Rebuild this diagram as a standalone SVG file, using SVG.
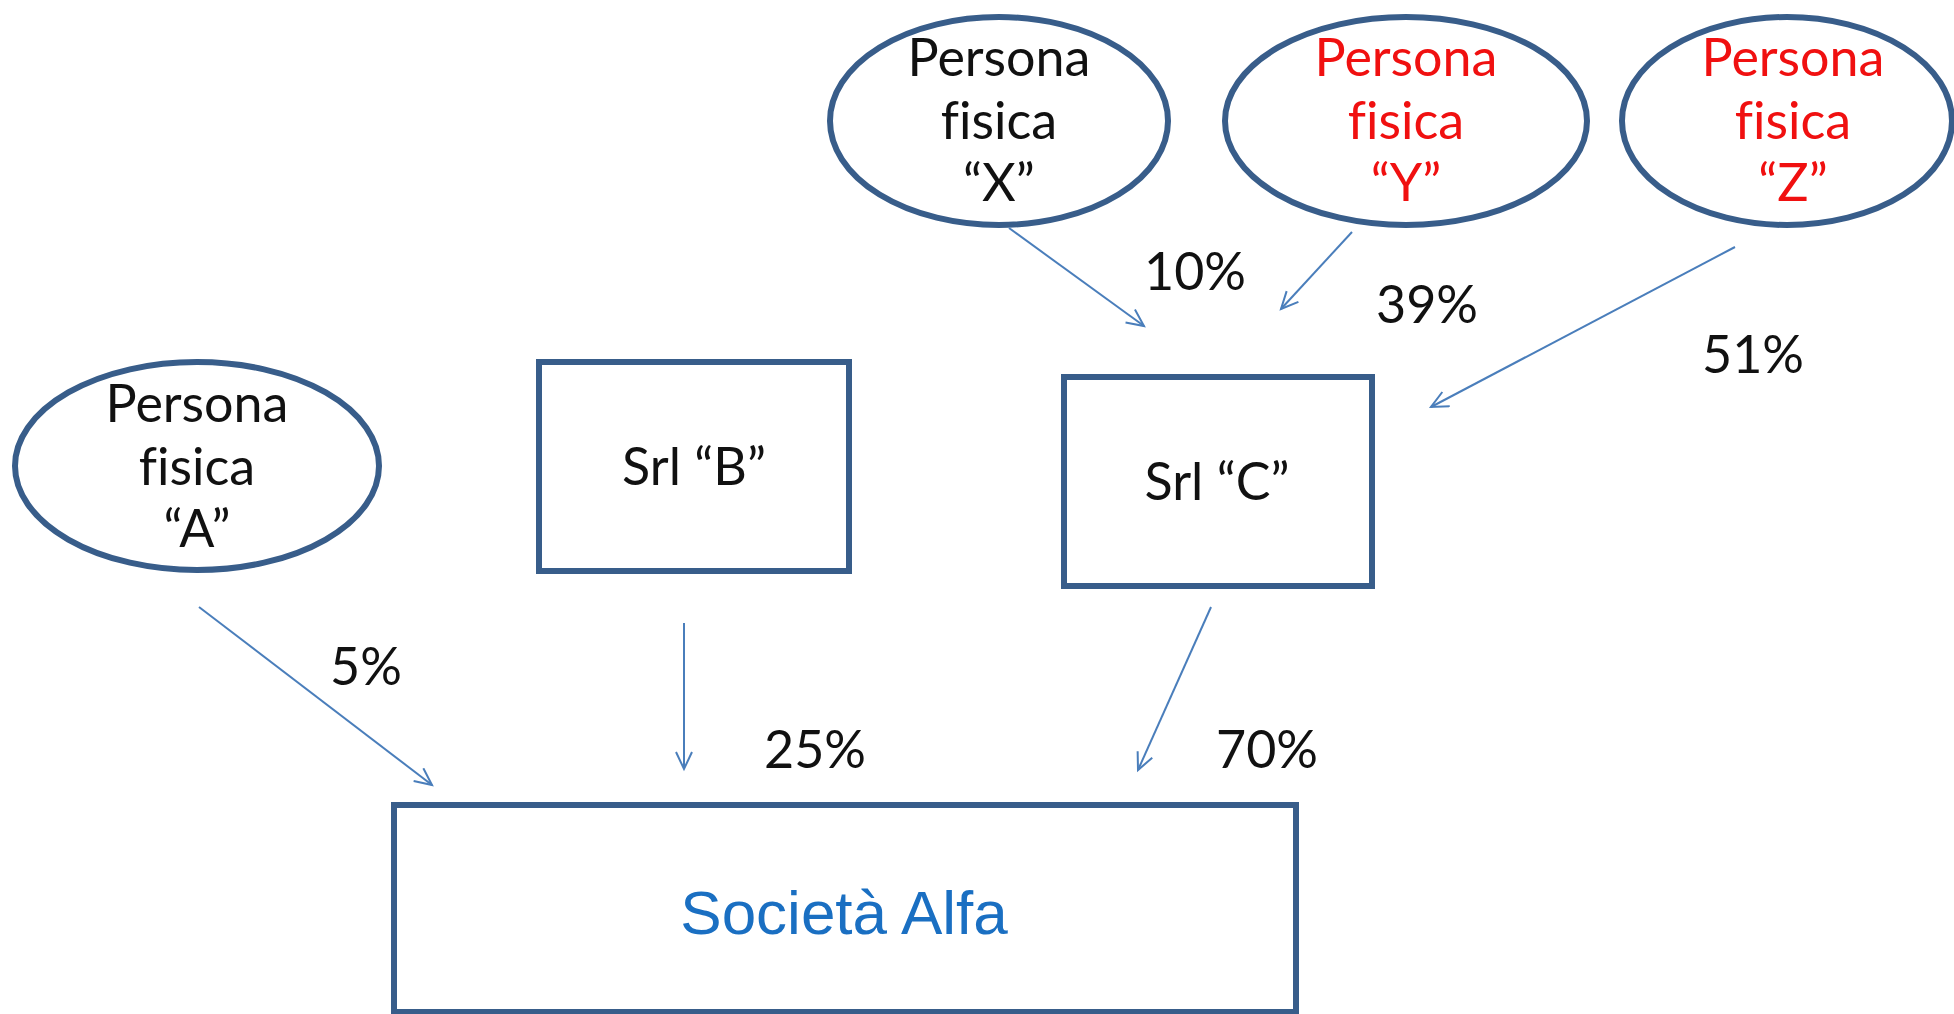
<svg xmlns="http://www.w3.org/2000/svg" width="1954" height="1014" viewBox="0 0 1954 1014">
<style>
.shape{fill:#fff;stroke:#385d8a;stroke-width:6}
.t{font-family:Lato,"Open Sans",sans-serif;font-size:52px;fill:#111;text-anchor:middle;font-variant-ligatures:none;font-feature-settings:"liga" 0}
.red{fill:#f01010}
.pct{font-family:Lato,"Open Sans",sans-serif;font-size:52px;fill:#111}
.alfa{font-family:"Liberation Sans",Arial,sans-serif;font-size:62px;fill:#1a6fc2;text-anchor:middle}
.conn{stroke:#4a7ebb;stroke-width:2;fill:none;marker-end:url(#arr)}
</style>
<defs>
<marker id="arr" markerUnits="userSpaceOnUse" markerWidth="24" markerHeight="24" refX="18" refY="9" orient="auto">
<path d="M1,1 L18,9 L1,17" fill="none" stroke="#4a7ebb" stroke-width="2"/>
</marker>
</defs>
<rect width="1954" height="1014" fill="#fff"/>
<g id="personaX">
<ellipse class="shape" cx="999" cy="121" rx="169" ry="104"/>
<text class="t" x="999" y="76">Persona</text>
<text class="t" x="999" y="139">fisica</text>
<text class="t" x="999" y="201">“X”</text>
</g>
<g id="personaY">
<ellipse class="shape" cx="1406" cy="121" rx="181" ry="104"/>
<text class="t red" x="1406" y="76">Persona</text>
<text class="t red" x="1406" y="139">fisica</text>
<text class="t red" x="1406" y="201">“Y”</text>
</g>
<g id="personaZ">
<ellipse class="shape" cx="1787" cy="121" rx="165" ry="104"/>
<text class="t red" x="1793" y="76">Persona</text>
<text class="t red" x="1793" y="139">fisica</text>
<text class="t red" x="1793" y="201">“Z”</text>
</g>
<g id="personaA">
<ellipse class="shape" cx="197" cy="466" rx="182" ry="104"/>
<text class="t" x="197" y="422">Persona</text>
<text class="t" x="197" y="485">fisica</text>
<text class="t" x="197" y="547">“A”</text>
</g>
<g id="srlB">
<rect class="shape" x="539" y="362" width="310" height="209"/>
<text class="t" x="694" y="485">Srl “B”</text>
</g>
<g id="srlC">
<rect class="shape" x="1064" y="377" width="308" height="209"/>
<text class="t" x="1217" y="500">Srl “C”</text>
</g>
<g id="societaAlfa">
<rect class="shape" x="394" y="805" width="902" height="207"/>
<text class="alfa" x="844" y="934">Società Alfa</text>
</g>
<g id="connectors">
<line class="conn" x1="1009" y1="228" x2="1144" y2="326"/>
<line class="conn" x1="1352" y1="232" x2="1281" y2="309"/>
<line class="conn" x1="1735" y1="247" x2="1431" y2="407"/>
<line class="conn" x1="199" y1="607" x2="432" y2="785"/>
<line class="conn" x1="684" y1="623" x2="684" y2="769"/>
<line class="conn" x1="1211" y1="607" x2="1138" y2="770"/>
</g>
<g id="labels">
<text class="pct" x="1144" y="290">10%</text>
<text class="pct" x="1376" y="323">39%</text>
<text class="pct" x="1702" y="373">51%</text>
<text class="pct" x="330" y="685">5%</text>
<text class="pct" x="764" y="768">25%</text>
<text class="pct" x="1216" y="768">70%</text>
</g>
</svg>
